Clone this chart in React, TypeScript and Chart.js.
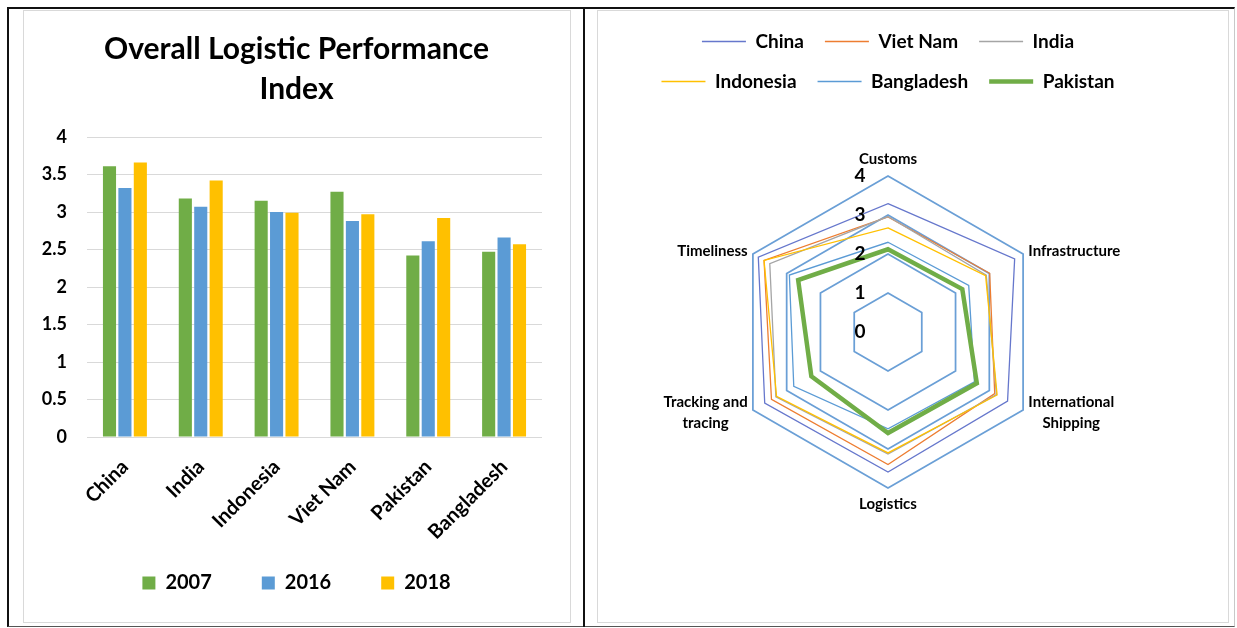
import React, { useEffect, useRef } from 'react';
import { Chart, registerables } from 'chart.js';

Chart.register(...registerables);

// ---------- Bar chart data ----------
const countries = ['China', 'India', 'Indonesia', 'Viet Nam', 'Pakistan', 'Bangladesh'];
const years = ['2007', '2016', '2018'];
const lpi2007 = [3.61, 3.18, 3.15, 3.27, 2.42, 2.47];
const lpi2016 = [3.32, 3.07, 3.0, 2.88, 2.61, 2.66];
const lpi2018 = [3.66, 3.42, 2.99, 2.97, 2.92, 2.57];
const barYTickLabels = ['0', '0.5', '1', '1.5', '2', '2.5', '3', '3.5', '4'];
const barTitle = ['Overall Logistic Performance', 'Index'];

// ---------- Radar chart data ----------
const radarAxes: (string | string[])[] = [
  'Customs',
  'Infrastructure',
  ['International', 'Shipping'],
  'Logistics',
  ['Tracking and', 'tracing'],
  'Timeliness',
];
const radarSeries = ['China', 'Viet Nam', 'India', 'Indonesia', 'Bangladesh', 'Pakistan'];
const chinaScores = [3.29, 3.75, 3.54, 3.59, 3.65, 3.84];
const vietNamScores = [2.95, 3.01, 3.16, 3.4, 3.45, 3.67];
const indiaScores = [2.96, 2.91, 3.21, 3.13, 3.32, 3.5];
const indonesiaScores = [2.67, 2.89, 3.23, 3.1, 3.3, 3.67];
const bangladeshScores = [2.3, 2.39, 2.56, 2.48, 2.79, 2.92];
const pakistanScores = [2.12, 2.2, 2.63, 2.59, 2.27, 2.66];
const radarTickLabels = ['0', '1', '2', '3', '4'];

const FONT = 'Lato, Calibri, Carlito, "Open Sans", sans-serif';

// moves the bottom legend up so it sits just under the rotated category labels
const legendLiftPlugin = {
  id: 'legendLift',
  afterLayout(chart: any) {
    const lg = chart.legend;
    if (!lg) return;
    const lift = 29;
    lg.top -= lift;
    lg.bottom -= lift;
  },
};

const radarLabelPlugin = {
  id: 'radarLabelPlugin',
  afterDraw(chart: any) {
    const scale = chart.scales.r;
    if (!scale) return;
    const ctx = chart.ctx;
    ctx.save();
    ctx.fillStyle = '#000';
    ctx.textAlign = 'center';
    ctx.textBaseline = 'middle';
    // value labels (0..4) placed left of the vertical axis
    ctx.font = `bold 19px ${FONT}`;
    scale.ticks.forEach((t: any) => {
      const pos = scale.getPointPositionForValue(0, t.value);
      ctx.fillText(String(t.label), pos.x - 28, pos.y);
    });
    // category labels
    ctx.font = `bold 15px ${FONT}`;
    const lh = 21;
    radarAxes.forEach((label, i) => {
      const lines = Array.isArray(label) ? label : [label];
      const p = scale.getPointPosition(i, scale.drawingArea + 6);
      const ang = scale.getIndexAngle(i);
      const sx = Math.sin(ang);
      const cyDir = -Math.cos(ang);
      const blockH = lines.length * lh;
      const maxW = Math.max(...lines.map((l) => ctx.measureText(l).width));
      let cx: number;
      let cy: number;
      if (Math.abs(sx) < 0.01) {
        cx = p.x;
        cy = cyDir < 0 ? p.y - blockH / 2 : p.y + blockH / 2;
      } else {
        cx = sx > 0 ? p.x + maxW / 2 : p.x - maxW / 2;
        cy = p.y;
      }
      lines.forEach((l, k) => {
        ctx.fillText(l, cx, cy - blockH / 2 + lh / 2 + k * lh);
      });
    });
    ctx.restore();
  },
};

export default function App() {
  const barRef = useRef<HTMLCanvasElement | null>(null);
  const radarRef = useRef<HTMLCanvasElement | null>(null);

  useEffect(() => {
    Chart.defaults.font.family = FONT;
    Chart.defaults.color = '#000';

    const bar = new Chart(barRef.current as HTMLCanvasElement, {
      type: 'bar',
      data: {
        labels: countries,
        datasets: [
          { label: years[0], data: lpi2007, backgroundColor: '#70AD47' },
          { label: years[1], data: lpi2016, backgroundColor: '#5B9BD5' },
          { label: years[2], data: lpi2018, backgroundColor: '#FFC000' },
        ],
      },
      options: {
        responsive: false,
        animation: false,
        devicePixelRatio: 1,
        layout: { padding: { top: 8, left: 14, right: 15, bottom: 9 } },
        datasets: { bar: { categoryPercentage: 0.61, barPercentage: 0.85 } },
        plugins: {
          title: {
            display: true,
            text: barTitle,
            color: '#000',
            font: { size: 30, weight: 'bold', lineHeight: '40px' } as any,
            padding: { top: 10, bottom: 28 },
          },
          legend: {
            position: 'bottom',
            labels: {
              boxWidth: 13,
              boxHeight: 13,
              padding: 50,
              color: '#000',
              font: { size: 20, weight: 'bold' },
            },
          },
          tooltip: { enabled: false },
        },
        scales: {
          x: {
            grid: { display: false },
            border: { display: false },
            ticks: {
              autoSkip: false,
              maxRotation: 45,
              minRotation: 45,
              padding: 10,
              color: '#000',
              font: { size: 20, weight: 'bold' },
            },
            afterFit: (s: any) => {
              s.height = 115;
            },
          },
          y: {
            min: 0,
            max: 4,
            ticks: {
              stepSize: 0.5,
              padding: 20,
              color: '#000',
              font: { size: 18, weight: 'bold' },
              callback: (_v: any, i: number) => barYTickLabels[i],
            },
            grid: { color: '#d9d9d9', drawTicks: false },
            border: { display: false },
            afterFit: (s: any) => {
              s.width = 49;
            },
          },
          yR: {
            position: 'right',
            display: true,
            grid: { display: false, drawTicks: false },
            border: { display: false },
            ticks: { display: false },
            afterFit: (s: any) => {
              s.width = 13;
            },
          },
        },
      } as any,
      plugins: [legendLiftPlugin],
    });

    const colors = ['#6677cc', '#ED7D31', '#A5A5A5', '#FFC000', '#5B9BD5', '#70AD47'];
    const widths = [1.3, 1.3, 1.3, 1.3, 1.3, 4.5];
    const seriesData = [chinaScores, vietNamScores, indiaScores, indonesiaScores, bangladeshScores, pakistanScores];

    const radar = new Chart(radarRef.current as HTMLCanvasElement, {
      type: 'radar',
      data: {
        labels: radarAxes as any,
        datasets: radarSeries.map((name, i) => ({
          label: name,
          data: seriesData[i],
          borderColor: colors[i],
          backgroundColor: 'transparent',
          borderWidth: widths[i],
          pointRadius: 0,
          pointHoverRadius: 0,
          pointBorderWidth: widths[i],
          pointBorderColor: colors[i],
          pointBackgroundColor: colors[i],
          fill: false,
          order: radarSeries.length - i,
        })),
      },
      options: {
        responsive: false,
        animation: false,
        devicePixelRatio: 1,
        layout: { padding: { top: 0, left: 20, right: 70, bottom: 134 } },
        elements: { line: { tension: 0 } },
        plugins: {
          legend: {
            position: 'top',
            weight: 3000,
            labels: {
              usePointStyle: true,
              pointStyle: 'line',
              pointStyleWidth: 44,
              padding: 21,
              color: '#000',
              font: { size: 19, weight: 'bold' },
              generateLabels: (chart: any) =>
                chart.data.datasets.map((ds: any, i: number) => ({
                  text: ds.label,
                  fillStyle: ds.borderColor,
                  strokeStyle: ds.borderColor,
                  lineWidth: ds.borderWidth,
                  pointStyle: 'line',
                  hidden: false,
                  fontColor: '#000',
                  datasetIndex: i,
                })),
            },
          },
          title: {
            display: true,
            text: '',
            font: { size: 10, lineHeight: '10px' } as any,
            padding: { top: 0, bottom: 65 },
          },
          tooltip: { enabled: false },
        },
        scales: {
          r: {
            min: 0,
            max: 4,
            ticks: {
              stepSize: 1,
              display: false,
              callback: (_v: any, i: number) => radarTickLabels[i],
            },
            grid: { color: '#6a9fd6', lineWidth: 1.75 },
            angleLines: { display: false },
            pointLabels: { display: false },
          },
        },
      } as any,
      plugins: [radarLabelPlugin],
    });

    return () => {
      bar.destroy();
      radar.destroy();
    };
  }, []);

  return (
    <div
      style={{
        position: 'absolute',
        left: 0,
        top: 0,
        width: 1237,
        height: 628,
        overflow: 'hidden',
        background: '#fff',
      }}
    >
      <div
        style={{
          position: 'absolute',
          left: 7,
          top: 7,
          width: 1228,
          height: 620,
          boxSizing: 'border-box',
          borderTop: '2px solid #111',
          borderLeft: '2px solid #111',
          borderBottom: '1px solid #555',
          borderRight: '1px solid #c8c8c8',
        }}
      />
      <div style={{ position: 'absolute', left: 583, top: 7, width: 2, height: 620, background: '#111' }} />
      <div
        style={{
          position: 'absolute',
          left: 23,
          top: 10,
          width: 548,
          height: 613,
          boxSizing: 'border-box',
          border: '1px solid #d9d9d9',
        }}
      />
      <div
        style={{
          position: 'absolute',
          left: 597,
          top: 10,
          width: 632,
          height: 613,
          boxSizing: 'border-box',
          border: '1px solid #d9d9d9',
        }}
      />
      <canvas
        ref={barRef}
        width={546}
        height={630}
        style={{ position: 'absolute', left: 24, top: 11, width: 546, height: 630 }}
      />
      <canvas
        ref={radarRef}
        width={630}
        height={611}
        style={{ position: 'absolute', left: 598, top: 11, width: 630, height: 611 }}
      />
    </div>
  );
}
